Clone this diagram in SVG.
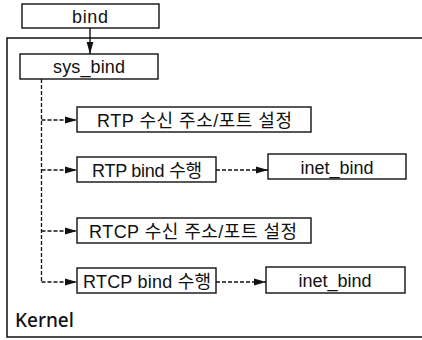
<svg xmlns="http://www.w3.org/2000/svg" width="422" height="340" viewBox="0 0 422 340">
  <defs>
    <marker id="arrow" viewBox="0 0 12 8" refX="12" refY="4" markerWidth="12" markerHeight="8" markerUnits="userSpaceOnUse" orient="auto">
      <path d="M0,0.6 L12,4 L0,7.4 Z" fill="#111"/>
    </marker>
  </defs>
  <style>
    .box { fill: #fff; stroke: #111; stroke-width: 1.4; }
    .kernel { fill: none; stroke: #111; stroke-width: 1.5; }
    .lbl { font-family: "Liberation Sans", "Noto Sans CJK KR", sans-serif; font-size: 18px; fill: #111; text-anchor: middle; }
    .klbl { font-family: "Noto Sans", "Liberation Sans", sans-serif; font-size: 19px; font-weight: 500; fill: #111; }
    .solid { fill: none; stroke: #111; stroke-width: 1.4; }
    .dash { fill: none; stroke: #111; stroke-width: 1.3; stroke-dasharray: 4 2; }
  </style>
  <rect width="422" height="340" fill="#fff"/>

  <!-- kernel boundary (open on the right) -->
  <g id="kernel">
    <rect class="kernel" x="7" y="38" width="430" height="299"/>
    <text class="klbl" x="15" y="327">Kernel</text>
  </g>

  <g id="connectors">
    <line class="solid" x1="90" y1="28" x2="90" y2="54" marker-end="url(#arrow)"/>
    <path class="dash" d="M41.5,79 V283"/>
    <path class="dash" d="M41.5,120 H77" marker-end="url(#arrow)"/>
    <path class="dash" d="M41.5,170 H77" marker-end="url(#arrow)"/>
    <path class="dash" d="M41.5,231 H77" marker-end="url(#arrow)"/>
    <path class="dash" d="M41.5,282 H77" marker-end="url(#arrow)"/>
    <path class="dash" d="M216,170 H268" marker-end="url(#arrow)"/>
    <path class="dash" d="M216,282 H266" marker-end="url(#arrow)"/>
  </g>

  <g id="bind">
    <rect class="box" x="22" y="4" width="137" height="24"/>
    <text class="lbl" x="90" y="23" textLength="36" lengthAdjust="spacing">bind</text>
  </g>

  <g id="sys_bind">
    <rect class="box" x="20" y="54" width="138" height="25"/>
    <text class="lbl" x="89" y="73" textLength="72" lengthAdjust="spacing">sys_bind</text>
  </g>

  <g id="rtp_addr">
    <rect class="box" x="77" y="107" width="234" height="25"/>
    <text class="lbl" x="194.5" y="127" textLength="195" lengthAdjust="spacing">RTP 수신 주소/포트 설정</text>
  </g>

  <g id="rtp_bind">
    <rect class="box" x="77" y="157" width="139" height="25"/>
    <text class="lbl" x="147" y="177" textLength="110" lengthAdjust="spacing">RTP bind 수행</text>
  </g>

  <g id="inet_bind_rtp">
    <rect class="box" x="268" y="154" width="138" height="25"/>
    <text class="lbl" x="337" y="174" textLength="73" lengthAdjust="spacing">inet_bind</text>
  </g>

  <g id="rtcp_addr">
    <rect class="box" x="77" y="218" width="234" height="25"/>
    <text class="lbl" x="193" y="238" textLength="208" lengthAdjust="spacing">RTCP 수신 주소/포트 설정</text>
  </g>

  <g id="rtcp_bind">
    <rect class="box" x="77" y="268" width="139" height="25"/>
    <text class="lbl" x="147" y="288" textLength="128" lengthAdjust="spacing">RTCP bind 수행</text>
  </g>

  <g id="inet_bind_rtcp">
    <rect class="box" x="266" y="267" width="139" height="26"/>
    <text class="lbl" x="335" y="287" textLength="73" lengthAdjust="spacing">inet_bind</text>
  </g>
</svg>
